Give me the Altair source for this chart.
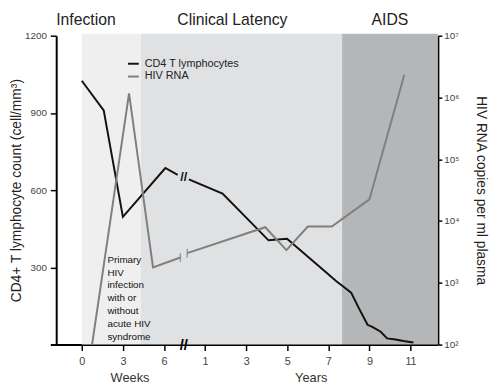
import altair as alt
import pandas as pd

# ---------------- data ----------------
cd4_weeks = [0, 1.6, 3.0, 6.1, 7.0]
cd4_weeks_vals = [1025, 910, 496, 686, 659]
cd4_years = [0.21, 1.85, 4.09, 4.99, 6.97, 7.39, 7.71, 8.11, 8.51, 8.91, 9.14, 9.55, 9.86, 10.27, 10.66, 11.14]
cd4_years_vals = [642, 587, 405, 411, 275, 246, 227, 202, 138, 77, 69, 50, 24, 20, 14, 8]

hiv_weeks = [0.75, 3.45, 5.2, 7.2]
hiv_weeks_vals = [100, 1.17e6, 1780, 2570]
hiv_years = [0.13, 3.93, 4.96, 6.0, 7.17, 9.0, 10.7]
hiv_years_vals = [3020, 7940, 3390, 8130, 8130, 22400, 2.34e6]

phase_names = ["Infection", "Clinical Latency", "AIDS"]
phase_start = [("w", 0), ("w", 4.3), ("y", 7.67)]
phase_end = [("w", 4.3), ("y", 7.67), ("y", 12.33)]
phase_label_at = [("w", 0.3), ("y", 2.33), ("y", 10.0)]
phase_fill = ["#efefef", "#e0e1e3", "#b5b6b8"]

week_ticks = [0, 3, 6]
year_ticks = [1, 3, 5, 7, 9, 11]

series_names = ["CD4 T lymphocytes", "HIV RNA"]
series_colors = ["#111111", "#7f7f7f"]

note_text = "Primary\nHIV\ninfection\nwith or\nwithout\nacute HIV\nsyndrome"
note_at = ("w", 1.87)
note_cd4 = 348

# broken time axis: weeks part, then years part
WEEK_BREAK = 7.5
YEAR_SCALE = 1.5


def pos(unit, v):
    return v if unit == "w" else WEEK_BREAK + YEAR_SCALE * v


cd4_df = pd.DataFrame(
    [{"pos": pos("w", t), "val": v, "seg": "a", "series": series_names[0]} for t, v in zip(cd4_weeks, cd4_weeks_vals)]
    + [{"pos": pos("y", t), "val": v, "seg": "b", "series": series_names[0]} for t, v in zip(cd4_years, cd4_years_vals)]
)
hiv_df = pd.DataFrame(
    [{"pos": pos("w", t), "val": v, "seg": "a", "series": series_names[1]} for t, v in zip(hiv_weeks, hiv_weeks_vals)]
    + [{"pos": pos("y", t), "val": v, "seg": "b", "series": series_names[1]} for t, v in zip(hiv_years, hiv_years_vals)]
)
phase_df = pd.DataFrame({
    "phase": phase_names,
    "start": [pos(*p) for p in phase_start],
    "end": [pos(*p) for p in phase_end],
    "label_pos": [pos(*p) for p in phase_label_at],
    "fill": phase_fill,
})
tick_values = [pos("w", w) for w in week_ticks] + [pos("y", y) for y in year_ticks]

FONT = "Liberation Sans"
W, H = 394, 314
xs = alt.Scale(domain=[-2.3, 26.0], nice=False, zero=False)

x_axis = alt.Axis(
    values=tick_values,
    labelExpr=f"datum.value <= 6 ? datum.value : (datum.value - {WEEK_BREAK}) / {YEAR_SCALE}",
    title=None, grid=False, domainColor="black", domainWidth=2,
    tickColor="black", tickWidth=1.5, tickSize=6,
    labelFontSize=11, labelColor="#444", labelPadding=5, labelFont=FONT,
)


def X(field):
    return alt.X(field, scale=xs, axis=x_axis)


bg = alt.Chart(phase_df).mark_rect().encode(
    x=X("start:Q"),
    x2="end:Q",
    y=alt.value(-2),
    y2=alt.value(H),
    fill=alt.Fill("fill:N", scale=None),
)

phase_text = alt.Chart(phase_df).mark_text(
    font=FONT, fontSize=16, color="#222", baseline="middle"
).encode(
    x=X("label_pos:Q"),
    y=alt.value(-16),
    text="phase:N",
)

unit_df = pd.DataFrame({"label": ["Weeks", "Years"], "pos": [3.52, 16.75]})
unit_text = alt.Chart(unit_df).mark_text(
    font=FONT, fontSize=13, color="#333", baseline="middle"
).encode(
    x=X("pos:Q"),
    y=alt.value(H + 34),
    text="label:N",
)

brk_df = pd.DataFrame({"pos": [WEEK_BREAK - 0.05], "t": ["//"]})
axis_break = alt.Chart(brk_df).mark_text(
    font=FONT, fontSize=15, fontWeight="bold", color="black", baseline="middle"
).encode(
    x=X("pos:Q"),
    y=alt.value(H),
    text="t:N",
)

color = alt.Color(
    "series:N",
    scale=alt.Scale(domain=series_names, range=series_colors),
    legend=alt.Legend(
        orient="none", legendX=78, legendY=22, title=None,
        symbolType="stroke", symbolStrokeWidth=2, symbolSize=120,
        labelFontSize=11, labelFont=FONT, labelColor="#222",
        rowPadding=1, labelOffset=5, padding=0,
    ),
)

cd4_y = alt.Y(
    "val:Q",
    scale=alt.Scale(domain=[0, 1200], nice=False),
    axis=alt.Axis(
        orient="left", values=[300, 600, 900, 1200], format="d",
        title="CD4+ T lymphocyte count (cell/mm³)", offset=-6, grid=False,
        domainColor="black", domainWidth=2, tickColor="black", tickWidth=1.5, tickSize=6,
        labelFontSize=10, labelFont=FONT, labelColor="#444", labelPadding=4,
        titleFontSize=14, titleFontWeight="normal", titleFont=FONT, titleColor="#222",
        titlePadding=1,
    ),
)

cd4_line = alt.Chart(cd4_df).mark_line(strokeWidth=2).encode(
    x=X("pos:Q"),
    y=cd4_y,
    color=color,
    detail="seg:N",
)

cd4_brk_df = pd.DataFrame({"pos": [7.45], "val": [652], "t": ["//"]})
cd4_brk = alt.Chart(cd4_brk_df).mark_text(
    font=FONT, fontSize=13, fontWeight="bold", color="#111", baseline="middle"
).encode(
    x=X("pos:Q"),
    y=alt.Y("val:Q"),
    text="t:N",
)

note_df = pd.DataFrame({"pos": [pos(*note_at)], "val": [note_cd4], "t": [note_text]})
note = alt.Chart(note_df).mark_text(
    font=FONT, fontSize=10, color="#111", align="left", baseline="top",
    lineBreak="\n", lineHeight=13,
).encode(
    x=X("pos:Q"),
    y=alt.Y("val:Q"),
    text="t:N",
)

cd4_group = alt.layer(cd4_line, cd4_brk, note)

hiv_y = alt.Y(
    "val:Q",
    scale=alt.Scale(type="log", domain=[100, 1e7], nice=False),
    axis=alt.Axis(
        orient="right", values=[100, 1000, 1e4, 1e5, 1e6, 1e7],
        labelExpr="'10' + ['²','³','⁴','⁵','⁶','⁷'][round(log(datum.value)/LN10) - 2]",
        title="HIV RNA copies per ml plasma", titleAngle=90, grid=False,
        domainColor="black", domainWidth=2, tickColor="black", tickWidth=1.5, tickSize=4,
        labelFontSize=10, labelFont=FONT, labelColor="#444", labelPadding=2,
        titleFontSize=14, titleFontWeight="normal", titleFont=FONT, titleColor="#222",
        titlePadding=15,
    ),
)

hiv_line = alt.Chart(hiv_df).mark_line(strokeWidth=2).encode(
    x=X("pos:Q"),
    y=hiv_y,
    color=color,
    detail="seg:N",
)

hiv_brk_df = pd.DataFrame({"pos": [pos("w", 7.2), pos("y", 0.13)], "val": [2570, 3020]})
hiv_brk = alt.Chart(hiv_brk_df).mark_tick(
    orient="vertical", size=9, thickness=1.5, color="#7f7f7f"
).encode(
    x=X("pos:Q"),
    y=alt.Y("val:Q"),
)

hiv_group = alt.layer(hiv_line, hiv_brk)

chart = alt.layer(bg, phase_text, unit_text, cd4_group, hiv_group, axis_break).resolve_scale(
    y="independent"
).properties(
    width=W, height=H,
    autosize=alt.AutoSizeParams(type="none"),
    padding={"left": 43, "top": 25, "right": 55, "bottom": 44},
).configure_view(stroke=None)

chart.save("out.html", embed_options={"renderer": "svg", "actions": False})
